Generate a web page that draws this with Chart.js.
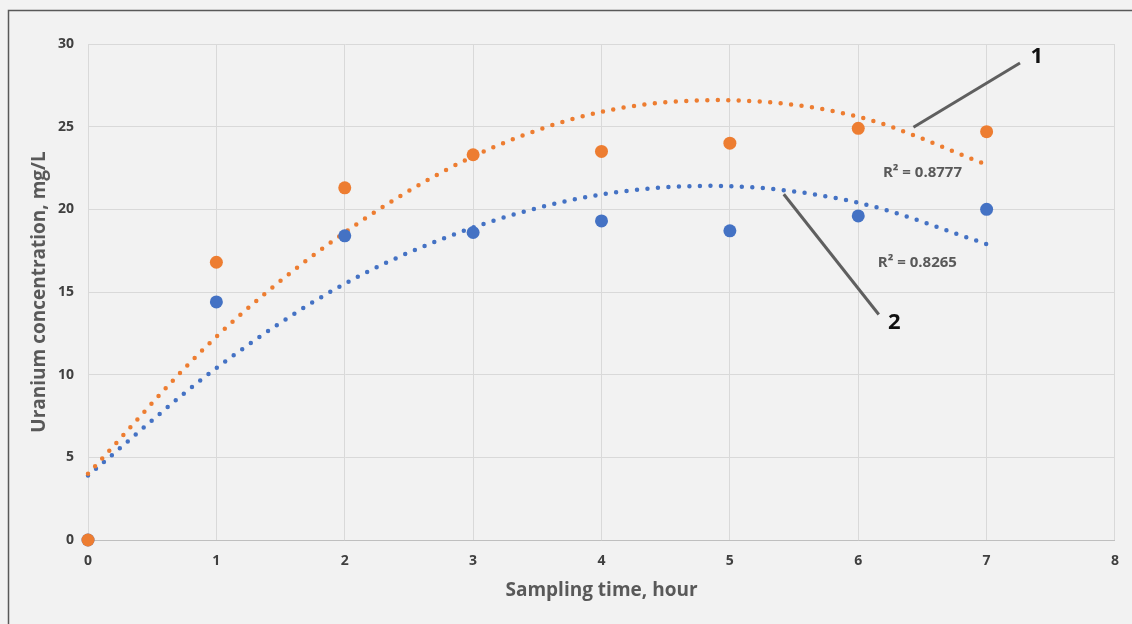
<!DOCTYPE html>
<html>
<head>
<meta charset="utf-8">
<script src="https://cdn.jsdelivr.net/npm/chart.js@4.4.1/dist/chart.umd.min.js"></script>
<style>
  html, body { margin: 0; padding: 0; background: #f2f2f2; }
  #wrap { width: 1132px; height: 624px; position: relative; }
</style>
</head>
<body>
<div id="wrap"><canvas id="chart" width="1132" height="624"></canvas></div>
<script>
// measured data (sampling time, hour)
const hours = [0, 1, 2, 3, 4, 5, 6, 7];
const series1 = [0, 16.8, 21.3, 23.3, 23.5, 24.0, 24.9, 24.7];   // orange, curve 1
const series2 = [0, 14.4, 18.4, 18.6, 19.3, 18.7, 19.6, 20.0];   // blue, curve 2

// polynomial trend lines
const trend1 = [4.0, 12.3, 18.6, 23.2, 25.9, 26.6, 25.6, 22.7];
const trend2 = [3.9, 10.4, 15.5, 18.9, 20.9, 21.4, 20.4, 17.9];

const xTicks = [0, 1, 2, 3, 4, 5, 6, 7, 8];
const yTicks = [0, 5, 10, 15, 20, 25, 30];

const r2Labels = ["R² = 0.8777", "R² = 0.8265"];
const curveNames = ["1", "2"];

const ORANGE = "#ED7D31";
const BLUE = "#4472C4";

const pts = (xs, ys) => xs.map((x, i) => ({ x: x, y: ys[i] }));

// labels and leader lines placed in data units
const notes = {
  texts: [
    { text: curveNames[0], x: 7.39, y: 29.2, font: "bold 22px 'Open Sans'", color: "#111" },
    { text: curveNames[1], x: 6.28, y: 13.15, font: "bold 22px 'Open Sans'", color: "#111" },
    { text: r2Labels[0], x: 6.50, y: 22.2, font: "bold 15px 'Open Sans'", color: "#595959" },
    { text: r2Labels[1], x: 6.46, y: 16.75, font: "bold 15px 'Open Sans'", color: "#595959" }
  ],
  lines: [
    { x1: 7.26, y1: 28.85, x2: 6.43, y2: 24.97 },
    { x1: 6.16, y1: 13.64, x2: 5.42, y2: 20.91 }
  ]
};

const annotate = {
  id: "annotate",
  beforeDraw(chart) {
    const c = chart.ctx;
    c.save();
    c.strokeStyle = "#595959";
    c.lineWidth = 1.5;
    c.beginPath();
    c.moveTo(8.5, 624);
    c.lineTo(8.5, 10.5);
    c.lineTo(1132, 10.5);
    c.stroke();
    c.restore();
  },
  afterDatasetsDraw(chart) {
    const c = chart.ctx;
    const xs = chart.scales.x, ys = chart.scales.y;
    c.save();
    c.strokeStyle = "#5f5f5f";
    c.lineWidth = 3;
    notes.lines.forEach(l => {
      c.beginPath();
      c.moveTo(xs.getPixelForValue(l.x1), ys.getPixelForValue(l.y1));
      c.lineTo(xs.getPixelForValue(l.x2), ys.getPixelForValue(l.y2));
      c.stroke();
    });
    c.textAlign = "center";
    c.textBaseline = "middle";
    notes.texts.forEach(t => {
      c.font = t.font;
      c.fillStyle = t.color;
      c.fillText(t.text, xs.getPixelForValue(t.x), ys.getPixelForValue(t.y));
    });
    c.restore();
  }
};

const dotted = color => ({
  type: "line",
  borderColor: color,
  borderWidth: 4.5,
  borderDash: [0, 10.5],
  borderCapStyle: "round",
  pointRadius: 0,
  pointHoverRadius: 0,
  tension: 0.33,
  fill: false,
  clip: false
});

new Chart(document.getElementById("chart"), {
  type: "scatter",
  data: {
    datasets: [
      Object.assign(dotted(ORANGE), { label: "Trend 1", data: pts(hours, trend1), order: 3 }),
      Object.assign(dotted(BLUE), { label: "Trend 2", data: pts(hours, trend2), order: 4 }),
      { label: "2", data: pts(hours, series2), backgroundColor: BLUE, borderWidth: 0, pointRadius: 6.5, order: 2, clip: false },
      { label: "1", data: pts(hours, series1), backgroundColor: ORANGE, borderWidth: 0, pointRadius: 6.5, order: 1, clip: false }
    ]
  },
  options: {
    responsive: false,
    animation: false,
    layout: { padding: { top: 44, right: 15, left: 0, bottom: 0 } },
    plugins: {
      legend: { display: false },
      tooltip: { enabled: false }
    },
    scales: {
      x: {
        type: "linear",
        min: 0, max: 8,
        afterBuildTicks: s => { s.ticks = xTicks.map(v => ({ value: v })); },
        afterFit: s => { s.height = 84; },
        grid: { color: "#d9d9d9", lineWidth: 1, drawTicks: false },
        border: { color: "#bfbfbf", width: 1 },
        ticks: { padding: 13, color: "#404040", font: { family: "'Open Sans'", size: 14, weight: "bold" } },
        title: {
          display: true,
          text: "Sampling time, hour",
          color: "#595959",
          font: { family: "'Open Sans'", size: 19, weight: "bold" },
          padding: { top: 0, bottom: 22 }
        }
      },
      y: {
        min: 0, max: 30,
        afterBuildTicks: s => { s.ticks = yTicks.map(v => ({ value: v })); },
        afterFit: s => { s.width = 88; },
        grid: { color: "#d9d9d9", lineWidth: 1, drawTicks: false },
        border: { color: "#d9d9d9", width: 1 },
        ticks: { padding: 14, color: "#404040", font: { family: "'Open Sans'", size: 14, weight: "bold" } },
        title: {
          display: true,
          text: "Uranium concentration, mg/L",
          color: "#595959",
          font: { family: "'Open Sans'", size: 19, weight: "bold" },
          padding: { top: 28, bottom: 0 }
        }
      }
    }
  },
  plugins: [annotate]
});
</script>
</body>
</html>
